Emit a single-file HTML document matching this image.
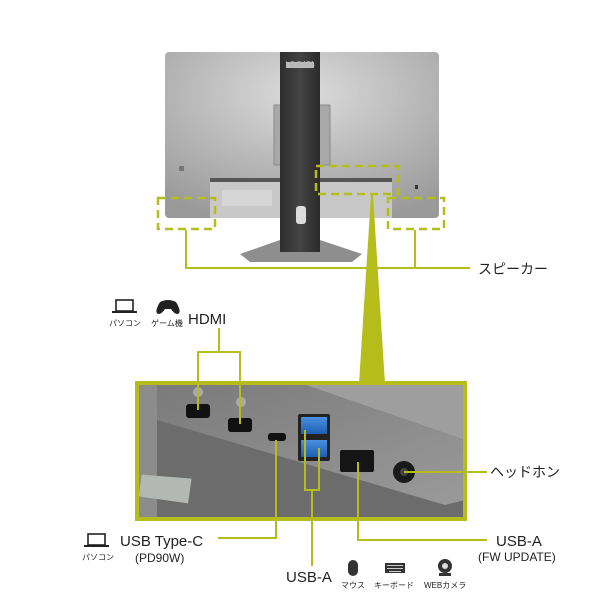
<!DOCTYPE html>
<html><head><meta charset="utf-8"><style>
html,body{margin:0;padding:0;background:#fff;width:600px;height:600px;overflow:hidden}
svg{display:block}
text{font-family:"Liberation Sans","Noto Sans CJK JP",sans-serif;fill:#222}
</style></head><body>
<svg width="600" height="600" viewBox="0 0 600 600" xmlns="http://www.w3.org/2000/svg">
<defs>
<radialGradient id="mon" cx="0.5" cy="0.25" r="0.8">
<stop offset="0" stop-color="#dcdcdc"/><stop offset="0.6" stop-color="#b4b4b4"/><stop offset="1" stop-color="#9a9a9a"/>
</radialGradient>
<linearGradient id="neck" x1="0" x2="1"><stop offset="0" stop-color="#2e2e2e"/><stop offset="0.5" stop-color="#444"/><stop offset="1" stop-color="#2a2a2a"/></linearGradient>
<linearGradient id="plate" x1="0" y1="0" x2="1" y2="1"><stop offset="0" stop-color="#7a7a7a"/><stop offset="1" stop-color="#9a9a9a"/></linearGradient>
<linearGradient id="blue" x1="0" y1="0" x2="0" y2="1"><stop offset="0" stop-color="#4a8fe0"/><stop offset="1" stop-color="#1e5fb0"/></linearGradient>
</defs>
<rect x="165" y="52" width="274" height="166" rx="4" fill="url(#mon)"/>
<rect x="210" y="178" width="182" height="40" fill="#c8c8c8"/>
<rect x="210" y="178" width="182" height="4" fill="#555"/>
<rect x="222" y="190" width="50" height="16" fill="#d6d6d6"/>
<rect x="274" y="105" width="56" height="60" fill="#a8a8a8" stroke="#8a8a8a"/>
<polygon points="240,254 280,240 320,240 362,254 352,262 250,262" fill="#8e8e8e"/>
<rect x="280" y="52" width="40" height="200" fill="url(#neck)"/>
<rect x="286" y="62" width="28" height="6" fill="#bbb"/>
<text x="300" y="66" font-size="7" text-anchor="middle" style="fill:#b0b0b0">I·O DATA</text>
<rect x="296" y="206" width="10" height="18" rx="3" fill="#ddd"/>
<rect x="179" y="166" width="5" height="5" fill="#777"/>
<rect x="415" y="185" width="3" height="4" fill="#333"/>
<g fill="none" stroke="#b5bd1a" stroke-width="2.5" stroke-dasharray="8,5">
<rect x="158" y="198" width="57" height="31"/>
<rect x="388" y="198" width="56" height="31"/>
<rect x="316" y="166" width="82" height="28"/>
</g>
<g stroke="#b5bd1a" stroke-width="2" fill="none">
<polyline points="186,230 186,268 470,268"/>
<line x1="415" y1="230" x2="415" y2="268"/>
</g>
<polygon points="371,195 373,195 385,384 359,384" fill="#b5bd1a"/>
<text x="478" y="274" font-size="14">スピーカー</text>
<rect x="137" y="383" width="328" height="136" fill="#6c6c6c"/>
<polygon points="137,383 465,383 465,440 300,383" fill="#9e9e9e"/>
<polygon points="157,383 300,383 465,440 465,500 445,505 157,420" fill="url(#plate)"/>
<rect x="139" y="385" width="18" height="132" fill="#8c8c8c"/>
<polygon points="140,478 190,475 190,500 140,500" fill="#b4b8b4" transform="rotate(8 165 488)"/>
<rect x="186" y="404" width="24" height="14" rx="3" fill="#111"/>
<rect x="228" y="418" width="24" height="14" rx="3" fill="#111"/>
<circle cx="198" cy="392" r="5" fill="#aaa"/><circle cx="241" cy="402" r="5" fill="#aaa"/>
<rect x="268" y="433" width="18" height="8" rx="3" fill="#111"/>
<rect x="298" y="414" width="32" height="47" rx="2" fill="#222"/>
<rect x="301" y="417" width="26" height="17" fill="url(#blue)"/>
<rect x="301" y="440" width="26" height="17" fill="url(#blue)"/>
<rect x="340" y="450" width="34" height="22" rx="2" fill="#151515"/>
<circle cx="404" cy="472" r="11" fill="#1a1a1a"/><circle cx="404" cy="472" r="4" fill="#444"/>
<rect x="137" y="383" width="328" height="136" fill="none" stroke="#b5bd1a" stroke-width="4"/>
<g stroke="#b5bd1a" stroke-width="2" fill="none">
<polyline points="198,410 198,352 240,352 240,424"/>
<line x1="219" y1="352" x2="219" y2="328"/>
<polyline points="276,440 276,538 218,538"/>
<polyline points="305,430 305,490 319,490 319,448"/>
<line x1="312" y1="490" x2="312" y2="566"/>
<polyline points="358,462 358,540 487,540"/>
<line x1="404" y1="472" x2="487" y2="472"/>
</g>
<text x="188" y="324" font-size="15">HDMI</text>
<text x="490" y="477" font-size="14">ヘッドホン</text>
<text x="496" y="546" font-size="15">USB-A</text>
<text x="478" y="561" font-size="12">(FW UPDATE)</text>
<text x="120" y="546" font-size="15">USB Type-C</text>
<text x="135" y="562" font-size="12">(PD90W)</text>
<text x="286" y="582" font-size="15">USB-A</text>
<g fill="none" stroke="#222" stroke-width="1.6">
<rect x="116" y="300" width="17" height="11"/>
<rect x="88" y="534" width="17" height="11"/>
</g>
<rect x="112" y="311" width="25" height="2" fill="#222"/>
<rect x="84" y="545" width="25" height="2" fill="#222"/>
<text x="109" y="326" font-size="8">パソコン</text>
<text x="82" y="560" font-size="8">パソコン</text>
<path d="M160,302 Q168,298 176,302 Q182,312 178,314 Q174,314 171,309 L165,309 Q162,314 158,314 Q154,312 160,302Z" fill="#222"/>
<text x="151" y="326" font-size="8">ゲーム機</text>
<rect x="348" y="560" width="10" height="16" rx="5" fill="#333"/>
<text x="341" y="588" font-size="8">マウス</text>
<rect x="385" y="563" width="20" height="10" fill="#333"/>
<g fill="#ccc"><rect x="387" y="565" width="16" height="1"/><rect x="387" y="568" width="16" height="1"/><rect x="389" y="571" width="12" height="1"/></g>
<text x="374" y="588" font-size="8">キーボード</text>
<circle cx="445" cy="566" r="7" fill="#333"/><circle cx="445" cy="566" r="3" fill="#ddd"/>
<rect x="439" y="573" width="12" height="3" fill="#333"/>
<text x="424" y="588" font-size="8">WEBカメラ</text>
</svg>
</body></html>
